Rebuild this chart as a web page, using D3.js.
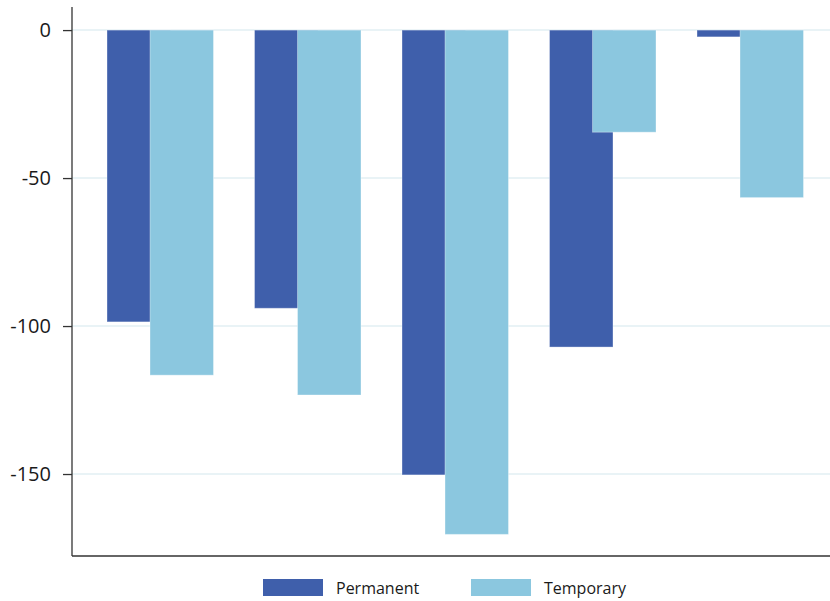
<!DOCTYPE html>
<html>
<head>
<meta charset="utf-8">
<script src="https://cdn.jsdelivr.net/npm/d3@7"></script>
<style>
  body { margin: 0; background: #fff; }
  svg { display: block; }
  text { font-family: "Open Sans", "Noto Sans", sans-serif; fill: #1a1a1a; }
</style>
</head>
<body>
<svg id="chart" width="830" height="601"></svg>
<script>
const categories = ["G1", "G2", "G3", "G4", "G5"];
const seriesNames = ["Permanent", "Temporary"];
const permanent = [-98.6, -94.0, -150.3, -107.1, -2.3];
const temporary = [-116.6, -123.3, -170.4, -34.5, -56.6];
const yTicks = [0, -50, -100, -150];
const colors = ["#3f5fab", "#8bc7df"];

(function () {
const svg = d3.select("#chart");
const mLeft = 72, mRight = 830, mTop = 7, mBottom = 556;

const y = d3.scaleLinear().domain([7.8, -177.7]).range([mTop, mBottom]);
const x = d3.scaleBand().domain(categories).range([86.75, 824.25]).padding(0);
const barW = 63.5;
const offsets = [-53.5, -10.5];

// gridlines
svg.append("g").selectAll("line").data(yTicks).join("line")
  .attr("x1", mLeft).attr("x2", mRight)
  .attr("y1", d => y(d)).attr("y2", d => y(d))
  .attr("stroke", "#e2eff3").attr("stroke-width", 1.5);

// bars
const series = [permanent, temporary];
series.forEach((vals, si) => {
  svg.append("g").selectAll("rect").data(vals).join("rect")
    .attr("x", (d, i) => x(categories[i]) + x.bandwidth() / 2 + offsets[si])
    .attr("width", barW)
    .attr("y", d => y(Math.max(0, d)))
    .attr("height", d => Math.abs(y(d) - y(0)))
    .attr("fill", colors[si])
    .attr("stroke", "rgba(255,255,255,0.35)")
    .attr("stroke-width", 1);
});

// y axis
const yAxis = d3.axisLeft(y).tickValues(yTicks).tickSize(9).tickPadding(12).tickFormat(d3.format("d"));
const gy = svg.append("g").attr("transform", `translate(${mLeft},0)`).call(yAxis);
gy.select(".domain").attr("stroke", "#333").attr("stroke-width", 1.3).attr("d", `M0,${mTop}V${mBottom}`);
gy.selectAll(".tick line").attr("stroke", "#333").attr("stroke-width", 1.3);
gy.selectAll(".tick text").style("font-size", "20px").attr("fill", "#1a1a1a")
  .text(d => d < 0 ? "-" + Math.abs(d) : d);

// x axis line
svg.append("line").attr("x1", mLeft).attr("x2", mRight).attr("y1", mBottom).attr("y2", mBottom)
  .attr("stroke", "#333").attr("stroke-width", 1.5);

// legend
const legendX = [263, 471];
seriesNames.forEach((name, i) => {
  svg.append("rect").attr("x", legendX[i]).attr("y", 579).attr("width", 60).attr("height", 17)
    .attr("fill", colors[i]);
  svg.append("text").attr("x", legendX[i] + 73).attr("y", 594)
    .style("font-size", "16px").text(name);
});
})();
</script>
</body>
</html>
